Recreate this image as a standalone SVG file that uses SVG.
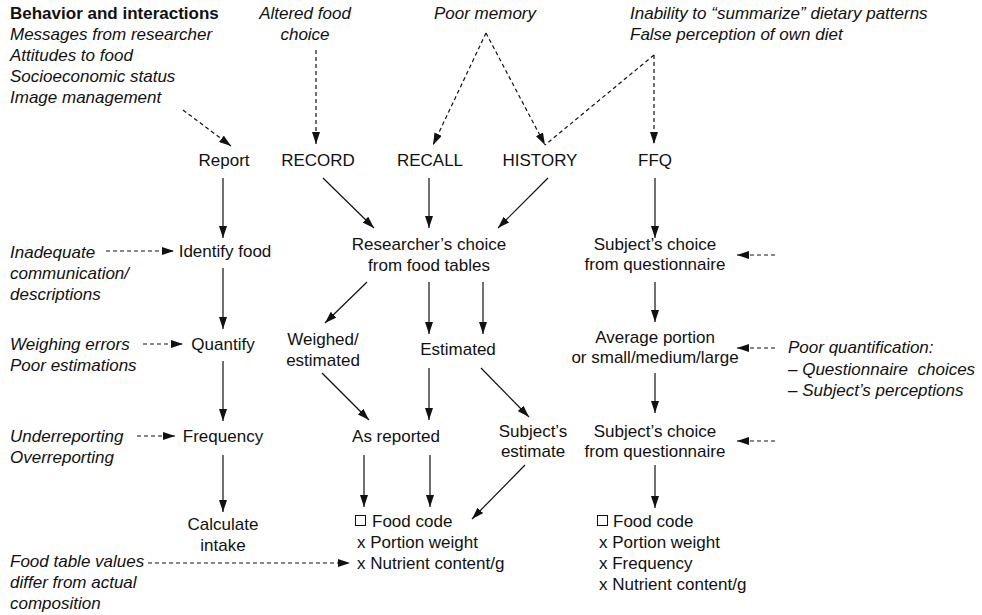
<svg xmlns="http://www.w3.org/2000/svg" width="982" height="615" viewBox="0 0 982 615">
<style>
text{font-family:"Liberation Sans",Arial,sans-serif;font-size:17px;fill:#111}
.i{font-style:italic}
.b{font-weight:bold}
.m{text-anchor:middle}
.s{stroke:#111;stroke-width:1.2;fill:none;marker-end:url(#ah)}
.d{stroke:#111;stroke-width:1.2;fill:none;stroke-dasharray:4 3}
.da{stroke:#111;stroke-width:1.2;fill:none;stroke-dasharray:4 3;marker-end:url(#ah)}
</style>
<defs>
<marker id="ah" viewBox="0 0 12 8" refX="12" refY="4" markerWidth="12" markerHeight="8" markerUnits="userSpaceOnUse" orient="auto">
<path d="M0,0 L12,4 L0,8 Z" fill="#111"/>
</marker>
</defs>
<rect width="982" height="615" fill="#fff"/>

<g id="sources">
<text x="10" y="19" class="b">Behavior and interactions</text>
<text x="10" y="40" class="i">Messages from researcher</text>
<text x="10" y="61" class="i">Attitudes to food</text>
<text x="10" y="82" class="i">Socioeconomic status</text>
<text x="10" y="103" class="i">Image management</text>
<text x="305" y="19" class="i m">Altered food</text>
<text x="305" y="40" class="i m">choice</text>
<text x="485" y="19" class="i m">Poor memory</text>
<text x="630" y="19" class="i">Inability to “summarize” dietary patterns</text>
<text x="630" y="40" class="i">False perception of own diet</text>
</g>

<g id="methods">
<text x="224" y="166" class="m">Report</text>
<text x="318" y="166" class="m">RECORD</text>
<text x="430" y="166" class="m">RECALL</text>
<text x="540" y="166" class="m">HISTORY</text>
<text x="655" y="166" class="m">FFQ</text>
</g>

<g id="left-column">
<text x="225" y="257" class="m">Identify food</text>
<text x="223" y="350" class="m">Quantify</text>
<text x="223" y="442" class="m">Frequency</text>
<text x="223" y="530" class="m">Calculate</text>
<text x="223" y="551" class="m">intake</text>
</g>

<g id="left-errors">
<text x="10" y="258" class="i">Inadequate</text>
<text x="10" y="279" class="i">communication/</text>
<text x="10" y="300" class="i">descriptions</text>
<text x="10" y="350" class="i">Weighing errors</text>
<text x="10" y="371" class="i">Poor estimations</text>
<text x="10" y="442" class="i">Underreporting</text>
<text x="10" y="463" class="i">Overreporting</text>
<text x="10" y="567" class="i">Food table values</text>
<text x="10" y="588" class="i">differ from actual</text>
<text x="10" y="609" class="i">composition</text>
</g>

<g id="middle-column">
<text x="429" y="250" class="m">Researcher’s choice</text>
<text x="429" y="271" class="m">from food tables</text>
<text x="323" y="345" class="m">Weighed/</text>
<text x="323" y="366" class="m">estimated</text>
<text x="458" y="355" class="m">Estimated</text>
<text x="396" y="442" class="m">As reported</text>
<text x="533" y="437" class="m">Subject’s</text>
<text x="533" y="457" class="m">estimate</text>
<rect x="355.5" y="515.5" width="10" height="10" fill="none" stroke="#111" stroke-width="1"/>
<text x="372" y="527">Food code</text>
<text x="357" y="548">x Portion weight</text>
<text x="357" y="569">x Nutrient content/g</text>
</g>

<g id="right-column">
<text x="655" y="250" class="m">Subject’s choice</text>
<text x="655" y="270" class="m">from questionnaire</text>
<text x="655" y="343" class="m">Average portion</text>
<text x="655" y="363" class="m">or small/medium/large</text>
<text x="655" y="437" class="m">Subject’s choice</text>
<text x="655" y="457" class="m">from questionnaire</text>
<rect x="597.5" y="515.5" width="10" height="10" fill="none" stroke="#111" stroke-width="1"/>
<text x="613" y="527">Food code</text>
<text x="599" y="548">x Portion weight</text>
<text x="599" y="569">x Frequency</text>
<text x="599" y="590">x Nutrient content/g</text>
</g>

<g id="right-errors">
<text x="788" y="353" class="i">Poor quantification:</text>
<text x="788" y="375" class="i" xml:space="preserve">– Questionnaire  choices</text>
<text x="788" y="396" class="i">– Subject’s perceptions</text>
</g>

<g id="connectors">
<path class="da" d="M183,110 L231,146"/>
<path class="da" d="M316,50 L316,144"/>
<path class="da" d="M486,33 L433,145"/>
<path class="da" d="M486,33 L545,145"/>
<path class="d" d="M654,55 L545,145"/>
<path class="da" d="M654,55 L654,144"/>

<path class="s" d="M223,178 L223,238"/>
<path class="s" d="M223,268 L223,329"/>
<path class="s" d="M223,361 L223,421"/>
<path class="s" d="M223,455 L223,512"/>

<path class="da" d="M106,251 L174,251"/>
<path class="da" d="M143,344 L183,344"/>
<path class="da" d="M137,436 L175,436"/>
<path class="da" d="M148,563 L350,563"/>

<path class="s" d="M323,178 L374,228"/>
<path class="s" d="M429,178 L429,228"/>
<path class="s" d="M548,178 L498,228"/>

<path class="s" d="M367,282 L325,323"/>
<path class="s" d="M429,282 L429,334"/>
<path class="s" d="M483,282 L483,334"/>

<path class="s" d="M322,373 L369,420"/>
<path class="s" d="M429,368 L429,420"/>
<path class="s" d="M481,368 L529,417"/>

<path class="s" d="M364,455 L364,507"/>
<path class="s" d="M430,455 L430,507"/>
<path class="s" d="M525,465 L472,519"/>

<path class="s" d="M655,178 L655,238"/>
<path class="s" d="M655,282 L655,322"/>
<path class="s" d="M655,373 L655,413"/>
<path class="s" d="M655,465 L655,508"/>

<path class="da" d="M775,255 L737,255"/>
<path class="da" d="M775,348 L737,348"/>
<path class="da" d="M775,441 L737,441"/>
</g>
</svg>
